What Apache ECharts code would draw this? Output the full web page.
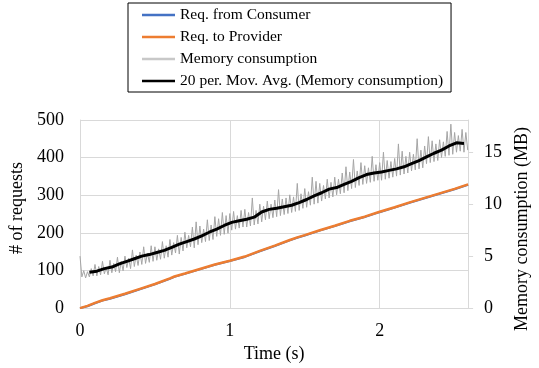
<!DOCTYPE html>
<html>
<head>
<meta charset="utf-8">
<script src="https://cdn.jsdelivr.net/npm/echarts@6/dist/echarts.min.js"></script>
<style>html,body{margin:0;padding:0;background:#fff;}#c{width:539px;height:368px;}</style>
</head>
<body>
<div id="c"></div>
<script>
// ---- data ----
var seriesNames = ['Req. from Consumer', 'Req. to Provider', 'Memory consumption', '20 per. Mov. Avg. (Memory consumption)'];
var xTicks = [0, 1, 2];
var leftTicks = [0, 100, 200, 300, 400, 500];
var rightTicks = [0, 5, 10, 15];

// request counts (time s, # of requests)
var reqTime = [0, 0.05, 0.1, 0.15, 0.2, 0.3, 0.4, 0.5, 0.6, 0.63, 0.7, 0.8, 0.9, 1.0, 1.1, 1.2, 1.3, 1.4, 1.45, 1.5, 1.6, 1.7, 1.8, 1.9, 2.0, 2.1, 2.2, 2.3, 2.4, 2.5, 2.59];
var reqConsumer = [0, 5, 13, 20, 25, 37, 50, 63, 78, 83, 91, 103, 115, 125, 136, 151, 165, 180, 187, 193, 206, 218, 231, 242, 255, 267, 280, 292, 304, 316, 328];
var reqProvider = [0, 6, 14, 21, 26, 38, 51, 64, 79, 84, 92, 104, 116, 126, 137, 152, 166, 181, 188, 194, 207, 219, 232, 243, 256, 268, 281, 293, 305, 317, 329];

// memory consumption (MB), sampled every memStep seconds from 0
var memStep = 0.0125;
var memValues = [
  5.0, 3.0, 3.6, 2.9, 3.5, 3.0, 3.8, 3.1,
  4.2, 3.1, 4.0, 3.2, 4.5, 3.3, 3.9, 3.2,
  4.6, 3.4, 4.3, 3.5, 4.9, 3.4, 4.5, 3.6,
  5.0, 3.9, 4.8, 3.8, 5.6, 4.0, 5.1, 4.1,
  5.4, 4.2, 5.9, 4.3, 5.3, 4.4, 6.0, 4.5,
  5.9, 4.6, 5.7, 4.7, 6.4, 4.8, 6.0, 4.9,
  6.6, 5.1, 6.3, 5.3, 7.0, 5.2, 6.8, 5.5,
  7.3, 5.8, 7.0, 5.9, 7.8, 5.8, 8.3, 6.1,
  7.9, 6.3, 7.6, 6.4, 8.5, 6.5, 8.0, 6.6,
  8.8, 6.9, 8.6, 7.0, 9.2, 7.1, 8.9, 7.2,
  9.1, 7.5, 9.3, 7.6, 8.9, 7.7, 9.4, 7.8,
  9.5, 7.8, 9.2, 7.9, 10.6, 8.0, 9.4, 8.1,
  10.0, 8.3, 9.8, 8.5, 10.3, 8.6, 10.0, 8.7,
  10.4, 8.8, 11.4, 8.9, 10.5, 9.0, 10.6, 9.1,
  10.9, 9.2, 10.7, 9.3, 12.0, 9.4, 11.0, 9.6,
  11.5, 9.7, 11.2, 9.9, 12.6, 10.0, 12.2, 10.1,
  12.0, 10.3, 11.8, 10.5, 12.4, 10.6, 12.1, 10.7,
  12.6, 10.9, 12.4, 11.0, 13.0, 11.1, 13.6, 11.3,
  13.1, 11.5, 14.3, 11.6, 13.2, 11.8, 14.0, 11.9,
  13.7, 12.0, 13.5, 12.1, 14.6, 12.2, 13.8, 12.3,
  14.0, 12.3, 15.0, 12.4, 14.2, 12.5, 14.1, 12.6,
  14.4, 12.7, 15.8, 12.8, 15.1, 12.9, 14.6, 13.0,
  15.0, 13.2, 14.8, 13.3, 16.3, 13.4, 15.2, 13.5,
  15.6, 13.9, 16.5, 14.0, 16.1, 14.1, 15.8, 14.2,
  16.2, 14.5, 16.0, 14.6, 17.0, 14.7, 17.7, 14.8,
  16.9, 15.0, 16.6, 15.1, 17.2, 15.0, 16.9, 15.2
];

// 20-period moving average (MB)
var avgTime = [0.0625, 0.1125, 0.1625, 0.2125, 0.2625, 0.3125, 0.3625, 0.4125, 0.4625, 0.5125, 0.5625, 0.6125, 0.6625, 0.7125, 0.7625, 0.8125, 0.8625, 0.9125, 0.9625, 1.0125, 1.0625, 1.1125, 1.1625, 1.2125, 1.2625, 1.3125, 1.3625, 1.4125, 1.4625, 1.5125, 1.5625, 1.6125, 1.6625, 1.7125, 1.7625, 1.8125, 1.8625, 1.9125, 1.9625, 2.0125, 2.0625, 2.1125, 2.1625, 2.2125, 2.2625, 2.3125, 2.3625, 2.4125, 2.4625, 2.5125, 2.5625];
var avgValues = [3.45, 3.55, 3.8, 3.95, 4.25, 4.5, 4.75, 5.0, 5.15, 5.35, 5.55, 5.85, 6.15, 6.4, 6.65, 6.95, 7.3, 7.6, 7.95, 8.25, 8.4, 8.55, 8.75, 9.25, 9.5, 9.6, 9.75, 9.9, 10.15, 10.45, 10.8, 11.1, 11.45, 11.6, 11.9, 12.2, 12.55, 12.85, 13.0, 13.1, 13.25, 13.4, 13.6, 13.9, 14.2, 14.55, 14.9, 15.2, 15.6, 15.9, 15.85];

// ---- build ----
function zip(xs, ys) { return xs.map(function (x, i) { return [x, ys[i]]; }); }
var memData = memValues.map(function (v, i) { return [i * memStep, v]; });

var FONT = "'Liberation Serif', 'Times New Roman', serif";
var grid = '#D9D9D9';

var chart = echarts.init(document.getElementById('c'), null, { renderer: 'canvas' });
chart.setOption({
  animation: false,
  textStyle: { fontFamily: FONT, color: '#000' },
  legend: {
    orient: 'vertical',
    left: 128, top: 3,
    padding: [4, 8, 3, 14],
    borderColor: '#000', borderWidth: 1,
    icon: 'rect',
    itemWidth: 33, itemHeight: 2.5, itemGap: 6,
    textStyle: { fontFamily: FONT, fontSize: 15.5, color: '#000', lineHeight: 16 },
    data: seriesNames
  },
  grid: { left: 80, right: 67, top: 120, bottom: 58, containLabel: false },
  xAxis: {
    type: 'value', min: 0, max: 2.59, interval: 1,
    name: 'Time (s)', nameLocation: 'middle', nameGap: 32,
    nameTextStyle: { fontFamily: FONT, fontSize: 18, color: '#000' },
    axisLine: { show: true, lineStyle: { color: grid, width: 1 } },
    axisTick: { show: false },
    axisLabel: { fontFamily: FONT, fontSize: 18, color: '#000', margin: 14, customValues: xTicks },
    splitLine: { show: true, lineStyle: { color: grid, width: 1 } }
  },
  yAxis: [{
    type: 'value', min: 0, max: 500, interval: 100,
    name: '# of requests', nameLocation: 'middle', nameGap: 47,
    nameTextStyle: { fontFamily: FONT, fontSize: 18, color: '#000', padding: [0, 0, 0, 12] },
    axisLine: { show: true, lineStyle: { color: grid, width: 1 } },
    axisTick: { show: false },
    axisLabel: { fontFamily: FONT, fontSize: 18, color: '#000', margin: 16, customValues: leftTicks },
    splitLine: { show: true, lineStyle: { color: grid, width: 1 } }
  }, {
    type: 'value', min: 0, max: 18.1, interval: 5, position: 'right',
    name: 'Memory consumption (MB)', nameLocation: 'middle', nameGap: 40,
    nameTextStyle: { fontFamily: FONT, fontSize: 18, color: '#000', padding: [0, 30, 0, 0] },
    axisLine: { show: true, lineStyle: { color: grid, width: 1 } },
    axisTick: { show: true, length: 5, inside: false, lineStyle: { color: grid }, customValues: rightTicks },
    axisLabel: { fontFamily: FONT, fontSize: 18, color: '#000', margin: 16, customValues: rightTicks },
    splitLine: { show: false }
  }],
  series: [{
    name: seriesNames[0], type: 'line', yAxisIndex: 0, symbol: 'none',
    data: zip(reqTime, reqConsumer),
    lineStyle: { color: '#4472C4', width: 2 }, itemStyle: { color: '#4472C4' }
  }, {
    name: seriesNames[1], type: 'line', yAxisIndex: 0, symbol: 'none',
    data: zip(reqTime, reqProvider),
    lineStyle: { color: '#ED7D31', width: 2.5 }, itemStyle: { color: '#ED7D31' }
  }, {
    name: seriesNames[2], type: 'line', yAxisIndex: 1, symbol: 'none',
    data: memData,
    lineStyle: { color: '#A5A5A5', width: 1 }, itemStyle: { color: '#C8C8C8' }
  }, {
    name: seriesNames[3], type: 'line', yAxisIndex: 1, symbol: 'none',
    data: zip(avgTime, avgValues),
    lineStyle: { color: '#000', width: 3 }, itemStyle: { color: '#000' }
  }]
});
</script>
</body>
</html>
